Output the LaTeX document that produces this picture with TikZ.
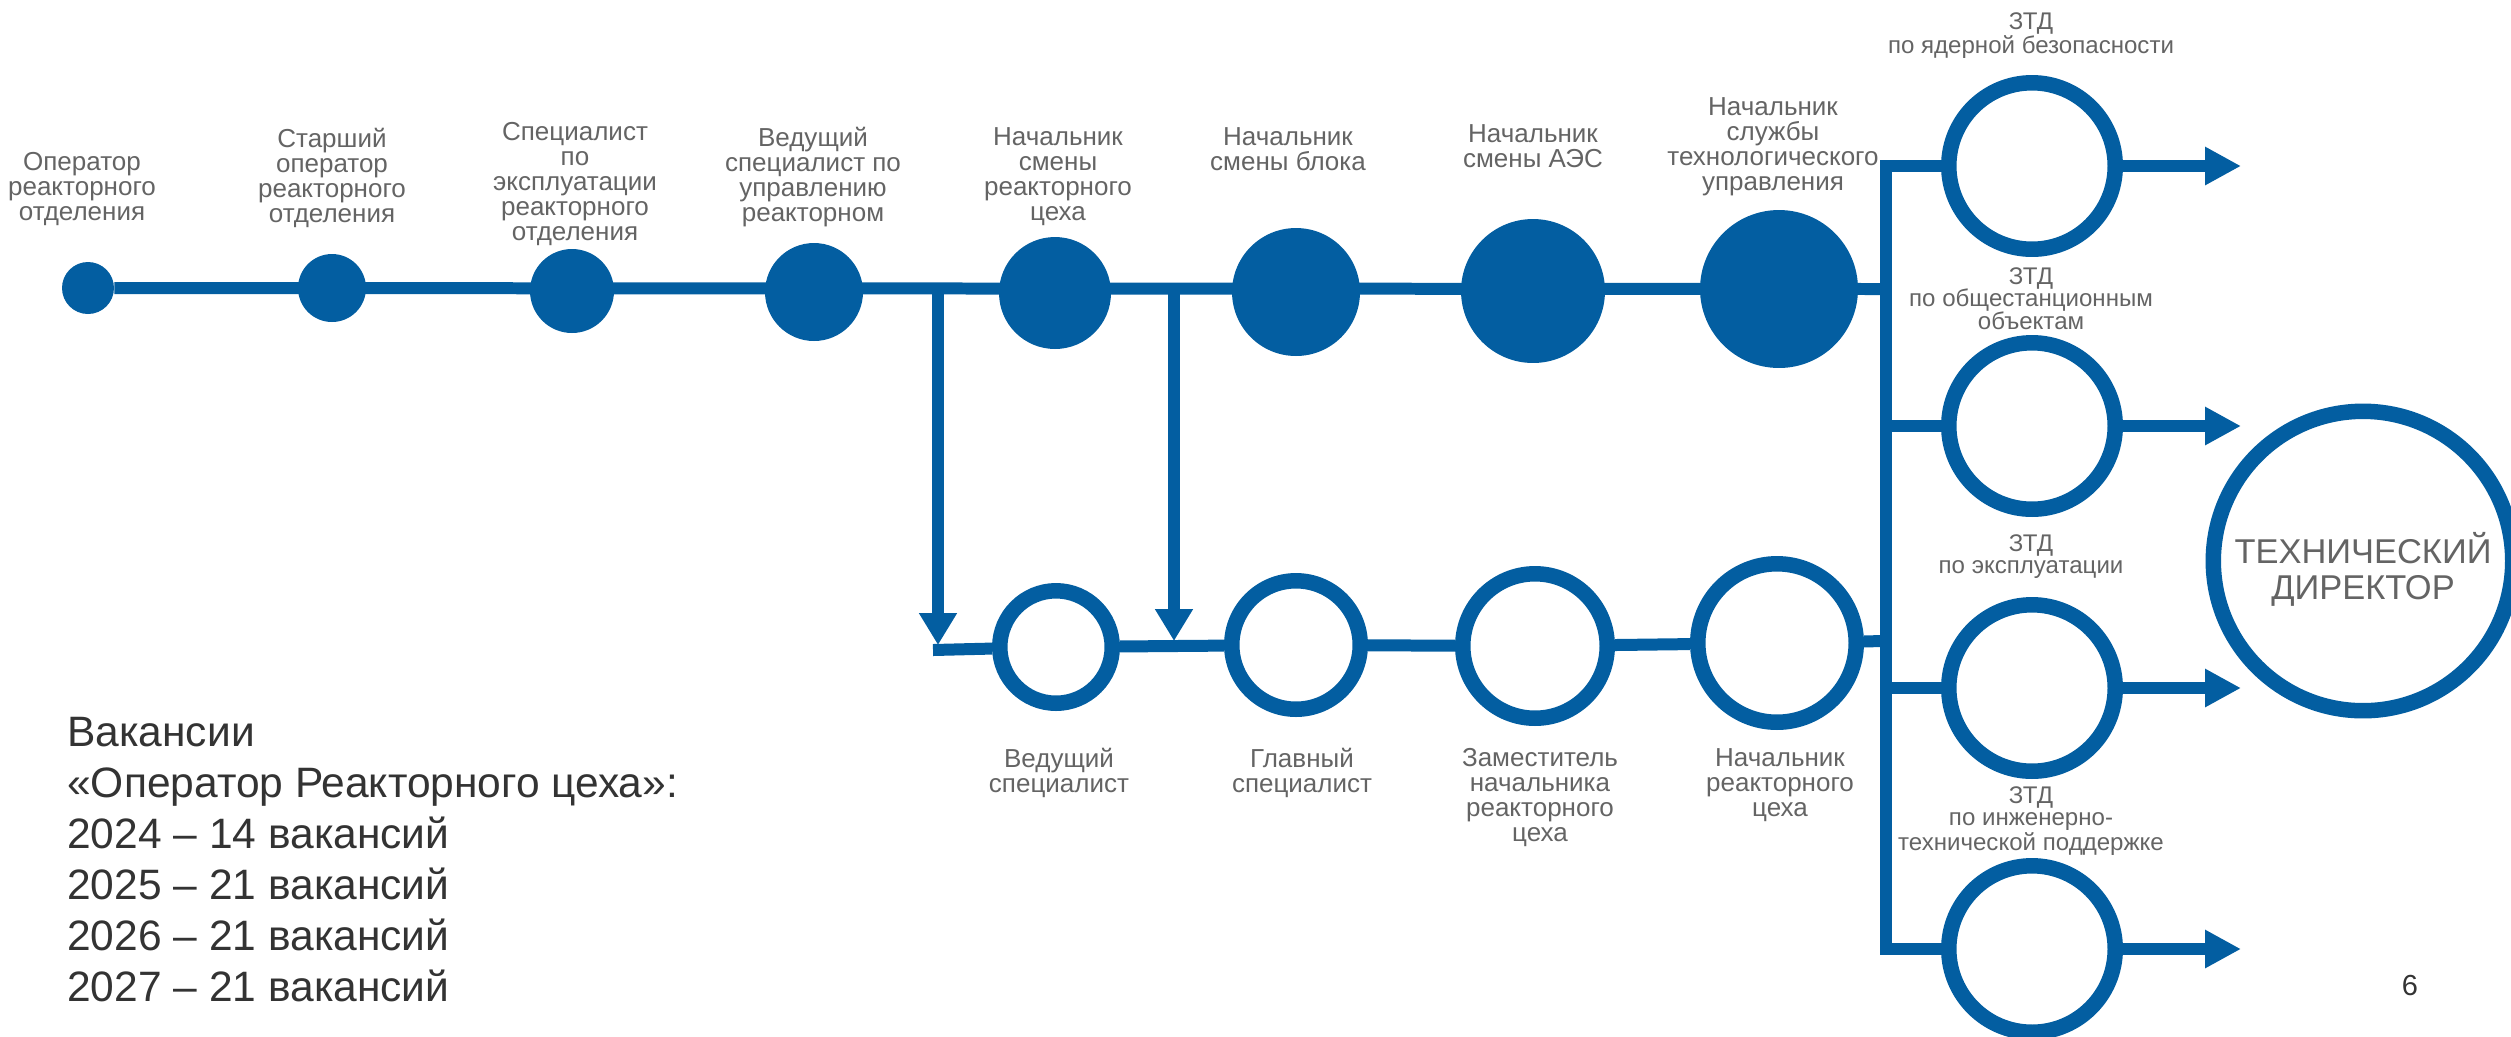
\documentclass[tikz,border=0pt]{standalone}
\usepackage{fontspec}
\setmainfont{Liberation Sans}
\usetikzlibrary{arrows.meta}
\definecolor{tblue}{RGB}{3,94,161}
\definecolor{tgray}{RGB}{100,100,100}
\definecolor{tdark}{RGB}{51,51,51}

\tikzset{
  dot/.style={circle, fill=tblue, inner sep=0pt},
  ring/.style={circle, draw=tblue, line width=0.31cm, fill=white, inner sep=0pt},
  wire/.style={draw=tblue, line width=0.24cm},
  arr/.style={-{Triangle[length=0.72cm, width=0.72cm]}},
  downarr/.style={-{Triangle[length=0.64cm, width=0.72cm]}},
  jobtext/.style={text=tgray, align=center, inner sep=0pt, anchor=north, font=\fontsize{14.8}{14.2}\selectfont},
  ztdtext/.style={jobtext, font=\fontsize{13.7}{12.8}\selectfont},
  dirtext/.style={text=tgray, align=center, inner sep=0pt, font=\fontsize{19.6}{20.5}\selectfont},
  vactext/.style={text=tdark, align=left, inner sep=0pt, anchor=north west, font=\fontsize{24.2}{29}\selectfont}
}

\begin{document}
\begin{tikzpicture}[x=0.02cm, y=-0.02cm]
                \useasboundingbox (0,0) rectangle (2511,1036);

                % Nodes: upper career line
                \node at (88,288) (op) [dot, minimum size=1.04cm] {};
                \node at (332,288) (sop) [dot, minimum size=1.36cm] {};
                \node at (572,291) (spec) [dot, minimum size=1.68cm] {};
                \node at (814,292) (vsp) [dot, minimum size=1.96cm] {};
                \node at (1055,293) (nsrc) [dot, minimum size=2.24cm] {};
                \node at (1296,292) (nsb) [dot, minimum size=2.56cm] {};
                \node at (1533,291) (nsaes) [dot, minimum size=2.88cm] {};
                \node at (1779,289) (nsto) [dot, minimum size=3.16cm] {};

                % Nodes: lower line
                \node at (1056,647) (vs) [ring, minimum size=2.25cm] {};
                \node at (1296,645) (gs) [ring, minimum size=2.57cm] {};
                \node at (1535,646) (znrc) [ring, minimum size=2.89cm] {};
                \node at (1777,643) (nrc) [ring, minimum size=3.17cm] {};

                % Nodes: deputies and director
                \node at (2032,166) (ztdA) [ring, minimum size=3.33cm] {};
                \node at (2032,426) (ztdB) [ring, minimum size=3.33cm] {};
                \node at (2032,688) (ztdC) [ring, minimum size=3.33cm] {};
                \node at (2032,949) (ztdD) [ring, minimum size=3.33cm] {};
                \node at (2363,561) (td) [ring, minimum size=5.99cm,
                    label={[dirtext, yshift=-5pt]center:ТЕХНИЧЕСКИЙ\\ДИРЕКТОР}] {};

                % Coordinates for free ends
                \coordinate (busM) at (1886,289);
                \coordinate (busL) at (1886,641);
                \coordinate (busA) at (1886,166);
                \coordinate (busB) at (1886,426);
                \coordinate (busC) at (1886,688);
                \coordinate (busD) at (1886,949);
                \coordinate (tipA) at (2241,166);
                \coordinate (tipB) at (2241,426);
                \coordinate (tipC) at (2241,688);
                \coordinate (tipD) at (2241,949);
                \coordinate (v1) at (938,289);
                \coordinate (v1e) at (938,645);
                \coordinate (v2) at (1174,289);
                \coordinate (v2e) at (1174,641);
                \coordinate (low0) at (933,650);

                % Arrows
                \draw[wire] (op) -- (busM);
                \draw[wire, downarr] (v1) -- (v1e);
                \draw[wire, downarr] (v2) -- (v2e);
                \draw[wire] (low0) -- (vs) -- (gs) -- (znrc) -- (nrc) -- (busL);
                \draw[wire] (ztdA) -- (busA) -- (busD) -- (ztdD);
                \draw[wire] (busB) -- (ztdB);
                \draw[wire] (busC) -- (ztdC);
                \draw[wire, arr] (ztdA) -- (tipA);
                \draw[wire, arr] (ztdB) -- (tipB);
                \draw[wire, arr] (ztdC) -- (tipC);
                \draw[wire, arr] (ztdD) -- (tipD);

                % Texts: upper line
                \node at (82,152) (t-op) [jobtext] {Оператор\\реакторного\\отделения};
                \node at (332,128) (t-sop) [jobtext] {Старший\\оператор\\реакторного\\отделения};
                \node at (575,122) (t-spec) [jobtext] {Специалист\\по\\эксплуатации\\реакторного\\отделения};
                \node at (813,127) (t-vsp) [jobtext] {Ведущий\\специалист по\\управлению\\реакторном};
                \node at (1058,127) (t-nsrc) [jobtext] {Начальник\\смены\\реакторного\\цеха};
                \node at (1288,127) (t-nsb) [jobtext] {Начальник\\смены блока};
                \node at (1533,124) (t-nsaes) [jobtext] {Начальник\\смены АЭС};
                \node at (1773,97) (t-nsto) [jobtext] {Начальник\\службы\\технологического\\управления};

                % Texts: lower line
                \node at (1059,748) (t-vs) [jobtext] {Ведущий\\специалист};
                \node at (1302,748) (t-gs) [jobtext] {Главный\\специалист};
                \node at (1540,748) (t-znrc) [jobtext] {Заместитель\\начальника\\реакторного\\цеха};
                \node at (1780,748) (t-nrc) [jobtext] {Начальник\\реакторного\\цеха};

                % Texts: deputies
                \node at (2031,12) (t-ztdA) [ztdtext] {ЗТД\\по ядерной безопасности};
                \node at (2031,267) (t-ztdB) [ztdtext] {ЗТД\\по общестанционным\\объектам};
                \node at (2031,534) (t-ztdC) [ztdtext] {ЗТД\\по эксплуатации};
                \node at (2031,786) (t-ztdD) [ztdtext] {ЗТД\\по инженерно-\\технической поддержке};

                % Vacancies and page number
                \node at (67,717) (vac) [vactext] {Вакансии\\«Оператор Реакторного цеха»:\\2024 – 14 вакансий\\2025 – 21 вакансий\\2026 – 21 вакансий\\2027 – 21 вакансий};
                \node at (2410,985) (page) [text=tdark, font=\fontsize{16.5}{18}\selectfont] {6};

            \end{tikzpicture}
\end{document}
